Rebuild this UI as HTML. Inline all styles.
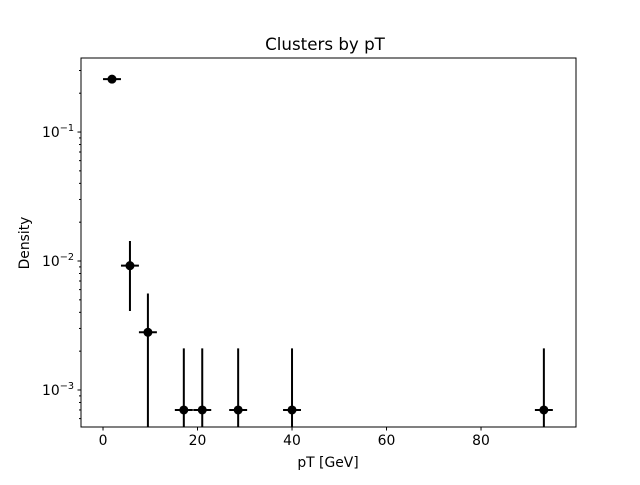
<!DOCTYPE html>
<html><head><meta charset="utf-8"><style>body{margin:0;background:#fff}svg text{font-family:"DejaVu Sans","Liberation Sans",sans-serif;fill:#000}</style></head>
<body>
<svg id="c" width="640" height="480" xmlns="http://www.w3.org/2000/svg"></svg>
<script>
const xs=[1.9,5.7,9.5,17.1,21.0,28.6,40.0,93.3];
const ys=[0.257,0.0092,0.0028,0.0007,0.0007,0.0007,0.0007,0.0007];
const yerr=[0.008,0.0051,0.0028,0.0014,0.0014,0.0014,0.0014,0.0014];
const xerr=[1.9,1.9,1.9,1.9,1.9,1.9,1.9,1.9];
const xticks=[0,20,40,60,80];
const yticks=[-3,-2,-1];
const L=81,R=576,T=58,B=427,x0=-4.66,x1=100.1,ly0=-3.287,ly1=-0.426;
const X=v=>L+(v-x0)/(x1-x0)*(R-L);
const Y=v=>{const l=v>0?Math.log10(v):-10;return Math.min(B,B-(l-ly0)/(ly1-ly0)*(B-T));};
const s=document.getElementById('c');const NS='http://www.w3.org/2000/svg';
function el(t,a,p){const e=document.createElementNS(NS,t);for(const k in a)e.setAttribute(k,a[k]);(p||s).appendChild(e);return e;}
const t=el('text',{x:325,y:50,'text-anchor':'middle','font-size':16.7});t.textContent='Clusters by pT';


const g=el('g',{});


xs.forEach((x,i)=>{
 const cx=X(x),cy=Y(ys[i]);
 const ln=el('line',{x1:X(x-xerr[i]),x2:X(x+xerr[i]),y1:cy,y2:cy,stroke:'#000','stroke-width':2},g);
 
 
 const lv=el('line',{x1:cx,x2:cx,y1:Y(ys[i]+yerr[i]),y2:Y(ys[i]-yerr[i]),stroke:'#000','stroke-width':2},g);
 
 
 const c=el('circle',{cx:cx,cy:cy,r:4.5,fill:'#000'},g);
 
 
});
const fr=el('rect',{x:L,y:T,width:R-L,height:B-T,fill:'none',stroke:'#000','stroke-width':1});


xticks.forEach(v=>{const px=X(v);el('line',{x1:px,x2:px,y1:B,y2:B+3.5,stroke:'#000'});
 const tx=el('text',{x:px,y:B+18,'text-anchor':'middle','font-size':13.9});tx.textContent=v;
 
 });
for(let d=-4;d<=0;d++)for(let m=1;m<10;m++){const v=m*Math.pow(10,d);const l=Math.log10(v);if(l<ly0||l>ly1)continue;const py=Y(v);
 el('line',{x1:L,x2:L-(m==1?3.5:2),y1:py,y2:py,stroke:'#000'});}
yticks.forEach(e=>{const py=Y(Math.pow(10,e));const tx=el('text',{x:L-7,y:py+5,'text-anchor':'end','font-size':13.9});
 tx.innerHTML='10<tspan dy="-6" font-size="9.7">\u2212'+(-e)+'</tspan>';
 
 });
const xl=el('text',{x:328,y:467,'text-anchor':'middle','font-size':13.9});xl.textContent='pT [GeV]';


const yl=el('text',{x:29,y:243,'text-anchor':'middle','font-size':13.9,transform:'rotate(-90 29 243)'});yl.textContent='Density';


</script>
</body></html>
